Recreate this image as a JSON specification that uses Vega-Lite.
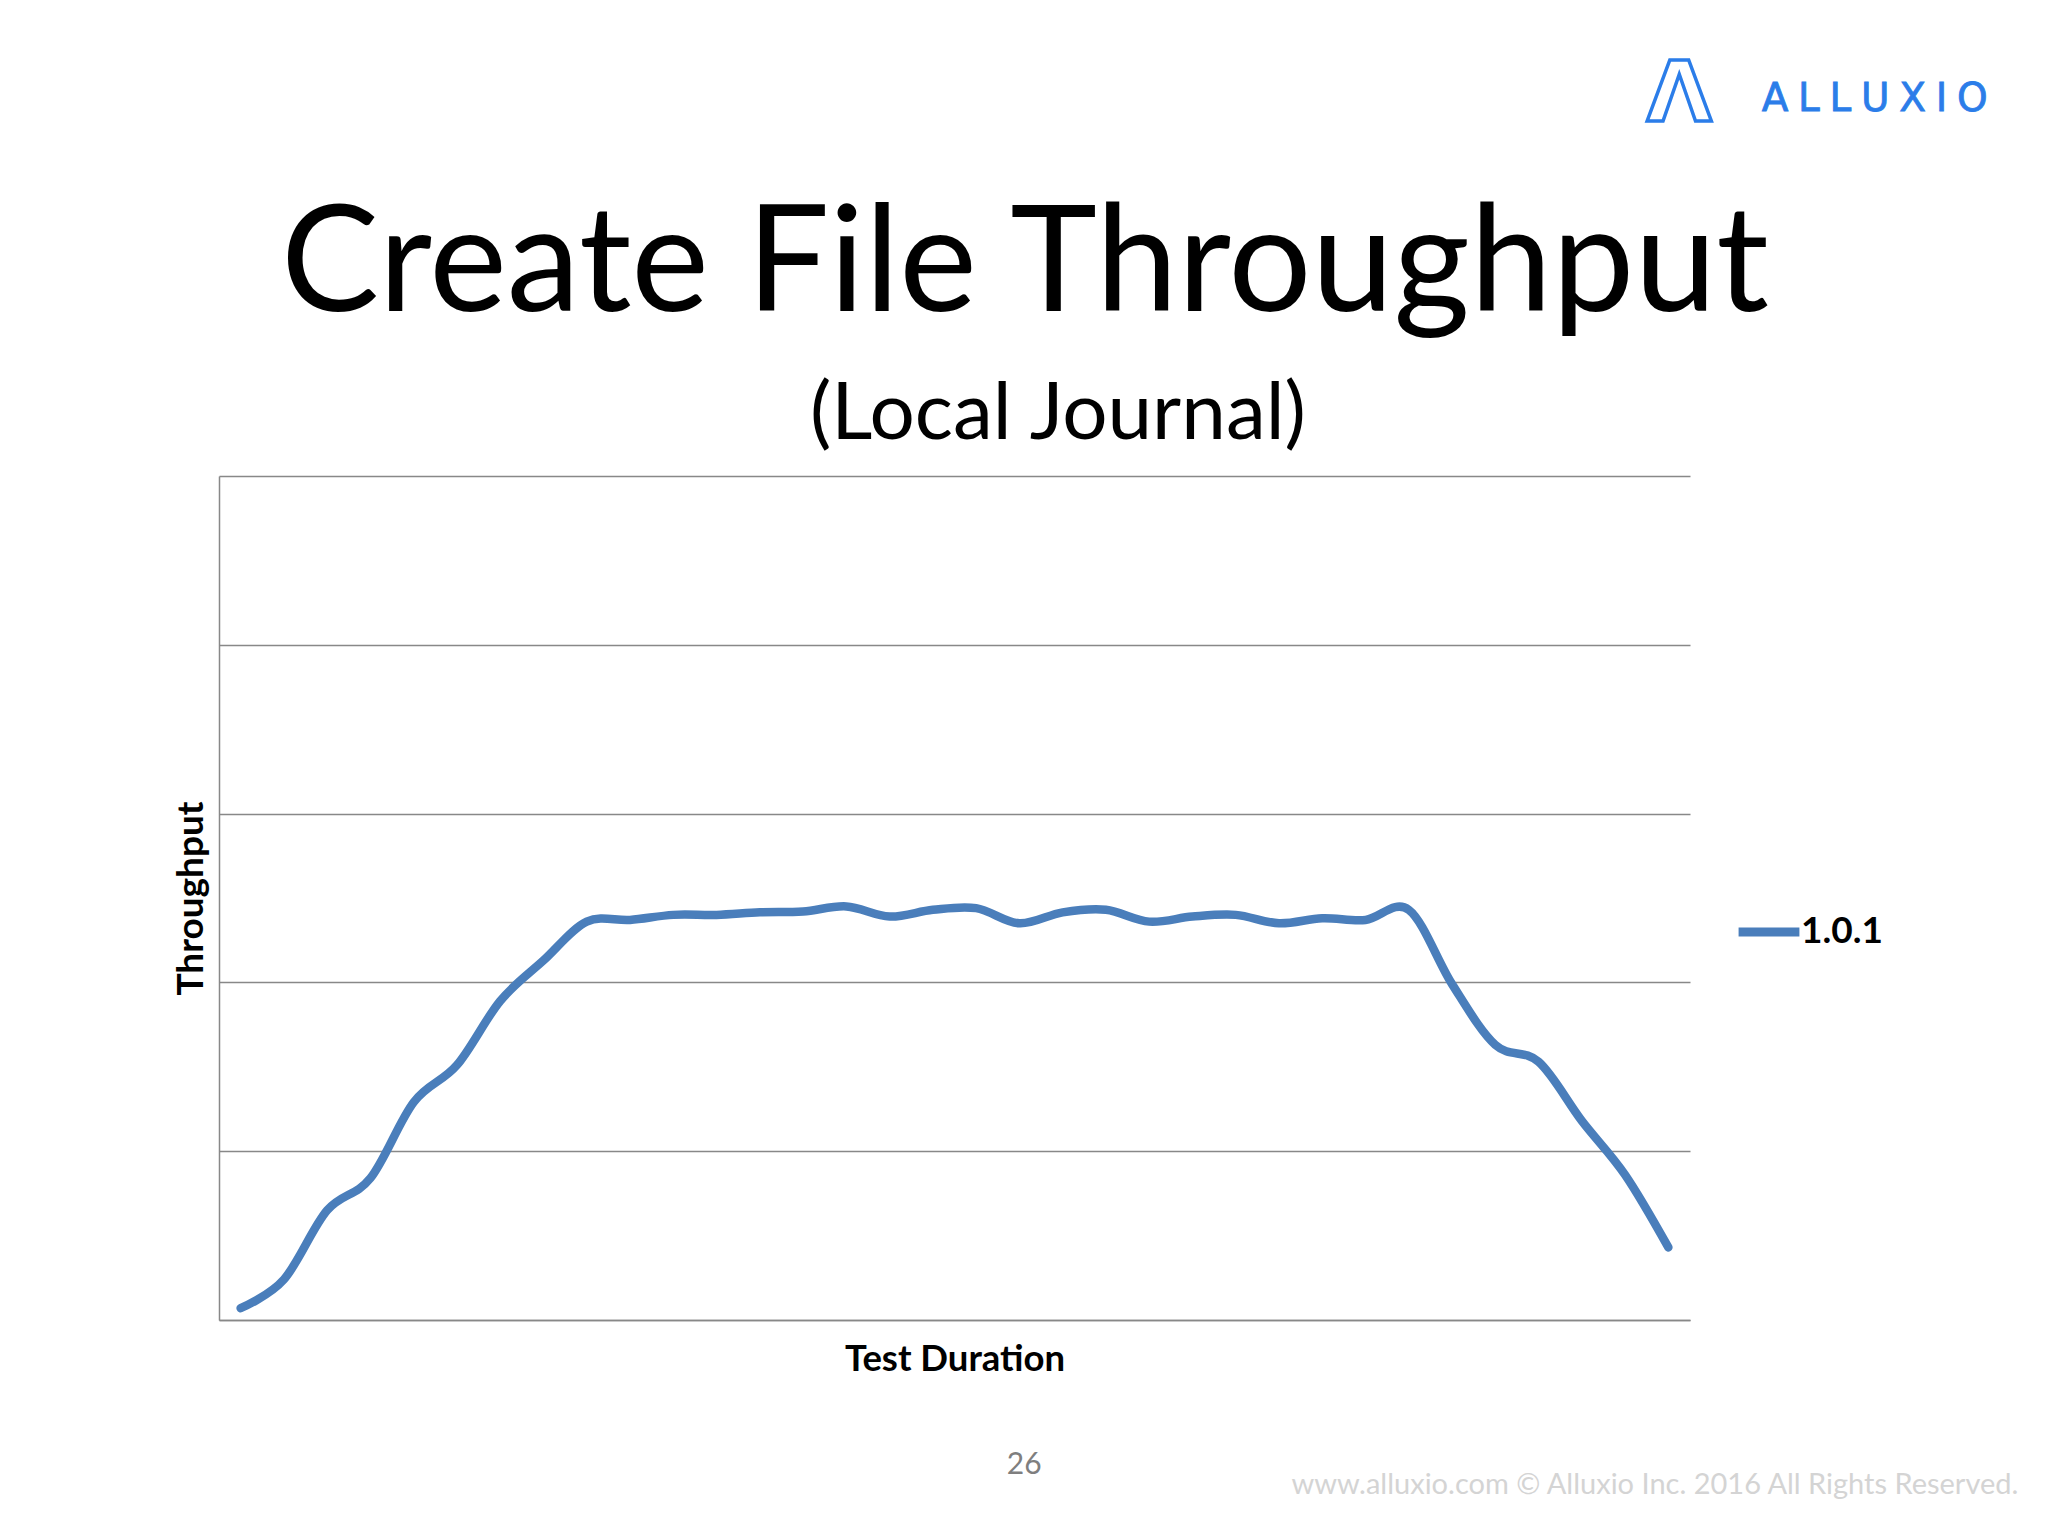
{
  "$schema": "https://vega.github.io/schema/vega-lite/v6.json",
  "width": 1471,
  "height": 844,
  "autosize": {"type": "none"},
  "padding": {"left": 219, "top": 476, "right": 358, "bottom": 216},
  "background": "white",
  "config": {"view": {"stroke": null}},
  "datasets": {
    "throughput": [
      {"t": 0, "v": 0.07, "series": "1.0.1"},
      {"t": 1, "v": 0.24, "series": "1.0.1"},
      {"t": 2, "v": 0.65, "series": "1.0.1"},
      {"t": 3, "v": 0.84, "series": "1.0.1"},
      {"t": 4, "v": 1.29, "series": "1.0.1"},
      {"t": 5, "v": 1.51, "series": "1.0.1"},
      {"t": 6, "v": 1.89, "series": "1.0.1"},
      {"t": 7, "v": 2.13, "series": "1.0.1"},
      {"t": 8, "v": 2.36, "series": "1.0.1"},
      {"t": 9, "v": 2.37, "series": "1.0.1"},
      {"t": 10, "v": 2.4, "series": "1.0.1"},
      {"t": 11, "v": 2.4, "series": "1.0.1"},
      {"t": 12, "v": 2.415, "series": "1.0.1"},
      {"t": 13, "v": 2.42, "series": "1.0.1"},
      {"t": 14, "v": 2.45, "series": "1.0.1"},
      {"t": 15, "v": 2.39, "series": "1.0.1"},
      {"t": 16, "v": 2.43, "series": "1.0.1"},
      {"t": 17, "v": 2.44, "series": "1.0.1"},
      {"t": 18, "v": 2.35, "series": "1.0.1"},
      {"t": 19, "v": 2.415, "series": "1.0.1"},
      {"t": 20, "v": 2.43, "series": "1.0.1"},
      {"t": 21, "v": 2.36, "series": "1.0.1"},
      {"t": 22, "v": 2.39, "series": "1.0.1"},
      {"t": 23, "v": 2.4, "series": "1.0.1"},
      {"t": 24, "v": 2.35, "series": "1.0.1"},
      {"t": 25, "v": 2.38, "series": "1.0.1"},
      {"t": 26, "v": 2.37, "series": "1.0.1"},
      {"t": 27, "v": 2.43, "series": "1.0.1"},
      {"t": 28, "v": 1.99, "series": "1.0.1"},
      {"t": 29, "v": 1.63, "series": "1.0.1"},
      {"t": 30, "v": 1.53, "series": "1.0.1"},
      {"t": 31, "v": 1.18, "series": "1.0.1"},
      {"t": 32, "v": 0.86, "series": "1.0.1"},
      {"t": 33, "v": 0.43, "series": "1.0.1"}
    ],
    "note": [{"label": "note"}]
  },
  "layer": [
    {
      "data": {"name": "throughput"},
      "mark": {"type": "line", "interpolate": "cardinal", "strokeWidth": 8.5, "strokeCap": "round", "strokeJoin": "round"},
      "encoding": {
        "x": {
          "field": "t",
          "type": "quantitative",
          "scale": {"domain": [-0.5, 33.5], "nice": false, "zero": false},
          "axis": {
            "title": "Test Duration",
            "labels": false,
            "ticks": false,
            "grid": false,
            "domain": true,
            "domainColor": "#888888",
            "domainWidth": 1.5,
            "titleFont": "Lato",
            "titleFontSize": 36.5,
            "titleFontWeight": "bold",
            "titleColor": "#000000",
            "titlePadding": 21
          }
        },
        "y": {
          "field": "v",
          "type": "quantitative",
          "scale": {"domain": [0, 5], "nice": false, "zero": true},
          "axis": {
            "title": "Throughput",
            "values": [0, 1, 2, 3, 4, 5],
            "labels": false,
            "ticks": false,
            "grid": true,
            "gridColor": "#888888",
            "gridWidth": 1.5,
            "domain": true,
            "domainColor": "#888888",
            "domainWidth": 1.5,
            "titleFont": "Lato",
            "titleFontSize": 37,
            "titleFontWeight": "bold",
            "titleColor": "#000000",
            "titlePadding": 9
          }
        },
        "color": {
          "field": "series",
          "type": "nominal",
          "scale": {"range": ["#4a7ebb"]},
          "legend": {
            "title": null,
            "orient": "none",
            "legendX": 1515,
            "legendY": 421,
            "symbolType": "stroke",
            "symbolStrokeWidth": 9,
            "symbolSize": 3700,
            "labelFont": "Lato",
            "labelFontSize": 37,
            "labelFontWeight": "bold",
            "labelColor": "#000000",
            "labelOffset": -3
          }
        }
      }
    },
    {
      "data": {"name": "note"},
      "mark": {"type": "text", "text": "Create File Throughput", "font": "Lato", "fontSize": 147, "color": "#000000", "align": "center", "baseline": "alphabetic"},
      "encoding": {"x": {"datum": 18.13}, "y": {"datum": 5.977}}
    },
    {
      "data": {"name": "note"},
      "mark": {"type": "text", "text": "(Local Journal)", "font": "Lato", "fontSize": 80, "color": "#000000", "align": "center", "baseline": "alphabetic"},
      "encoding": {"x": {"datum": 18.89}, "y": {"datum": 5.219}}
    },
    {
      "data": {"name": "note"},
      "mark": {"type": "text", "text": "26", "font": "Lato", "fontSize": 30, "color": "#7f7f7f", "align": "center", "baseline": "middle"},
      "encoding": {"x": {"datum": 18.11}, "y": {"datum": -0.86}}
    },
    {
      "data": {"name": "note"},
      "mark": {"type": "text", "text": "www.alluxio.com © Alluxio Inc. 2016 All Rights Reserved.", "font": "Lato", "fontSize": 29, "color": "#d4d4d4", "align": "right", "baseline": "middle"},
      "encoding": {"x": {"datum": 41.09}, "y": {"datum": -0.977}}
    },
    {
      "data": {"name": "note"},
      "mark": {"type": "text", "text": "A\u2005L\u2005L\u2005U\u2005X\u2005I\u2005O", "font": "DejaVu Sans", "fontSize": 39, "color": "#2b7de9", "stroke": "#2b7de9", "strokeWidth": 0.8, "align": "center", "baseline": "middle"},
      "encoding": {"x": {"datum": 37.77}, "y": {"datum": 7.233}}
    },
    {
      "data": {"name": "note"},
      "mark": {"type": "text", "text": "Λ", "font": "DejaVu Sans", "fontWeight": "bold", "fontSize": 84, "fill": "white", "stroke": "#2b7de9", "strokeWidth": 3.5, "align": "center", "baseline": "middle"},
      "encoding": {"x": {"datum": 33.25}, "y": {"datum": 7.25}}
    }
  ]
}
